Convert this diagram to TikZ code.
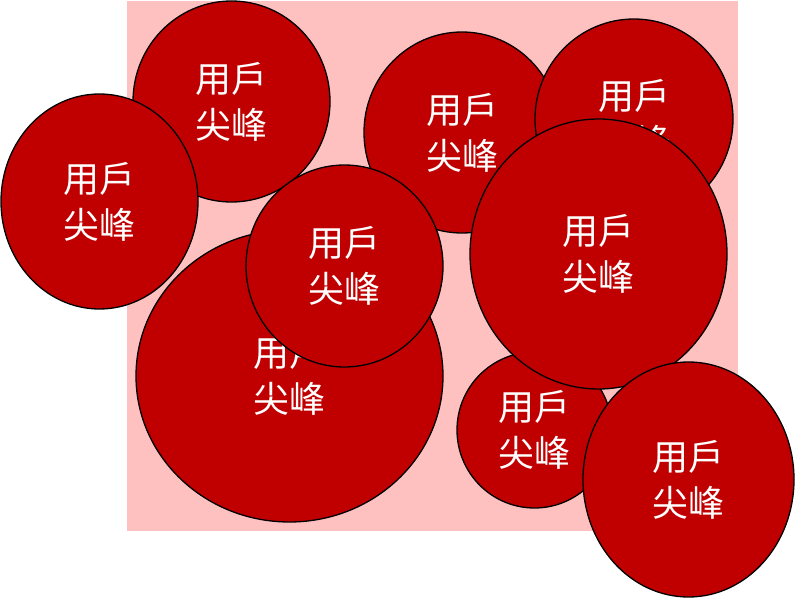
\documentclass[tikz,border=0pt]{standalone}
\usepackage{fontspec}
\newfontfamily\cjk{Noto Sans CJK TC}
\usetikzlibrary{shapes.geometric}
\definecolor{bubblered}{HTML}{C00000}
\definecolor{bgpink}{HTML}{FFC0C0}
\tikzset{
  bubble/.style={ellipse, draw=black, line width=1.3pt, fill=bubblered, text=white,
    inner sep=0pt, align=center, font=\cjk\fontsize{36}{46}\selectfont},
}
\begin{document}
\begin{tikzpicture}[x=1pt,y=-1pt]
\useasboundingbox (0,0) rectangle (795,599);
\fill[bgpink] (127,1) rectangle (738,531);
\node[bubble, minimum width=197pt, minimum height=201pt] (c1) at (231.5,101.5) {用戶\\尖峰};
\node[bubble, minimum width=196pt, minimum height=201pt] (c3) at (462,132.5) {用戶\\尖峰};
\node[bubble, minimum width=198pt, minimum height=200pt] (c4) at (634,119) {用戶\\尖峰};
\node[bubble, minimum width=307pt, minimum height=292pt] (c5) at (289.5,376) {用戶\\尖峰};
\node[bubble, minimum width=197pt, minimum height=215pt] (c2) at (99.5,201.5) {用戶\\尖峰};
\node[bubble, minimum width=197pt, minimum height=202pt] (c6) at (344.5,266) {用戶\\尖峰};
\node[bubble, minimum width=155pt, minimum height=156pt] (c8) at (534.5,430) {用戶\\尖峰};
\node[bubble, minimum width=257pt, minimum height=270pt] (c7) at (598.5,254) {用戶\\尖峰};
\node[bubble, minimum width=211pt, minimum height=235pt] (c9) at (688.5,479.5) {用戶\\尖峰};
\end{tikzpicture}
\end{document}
